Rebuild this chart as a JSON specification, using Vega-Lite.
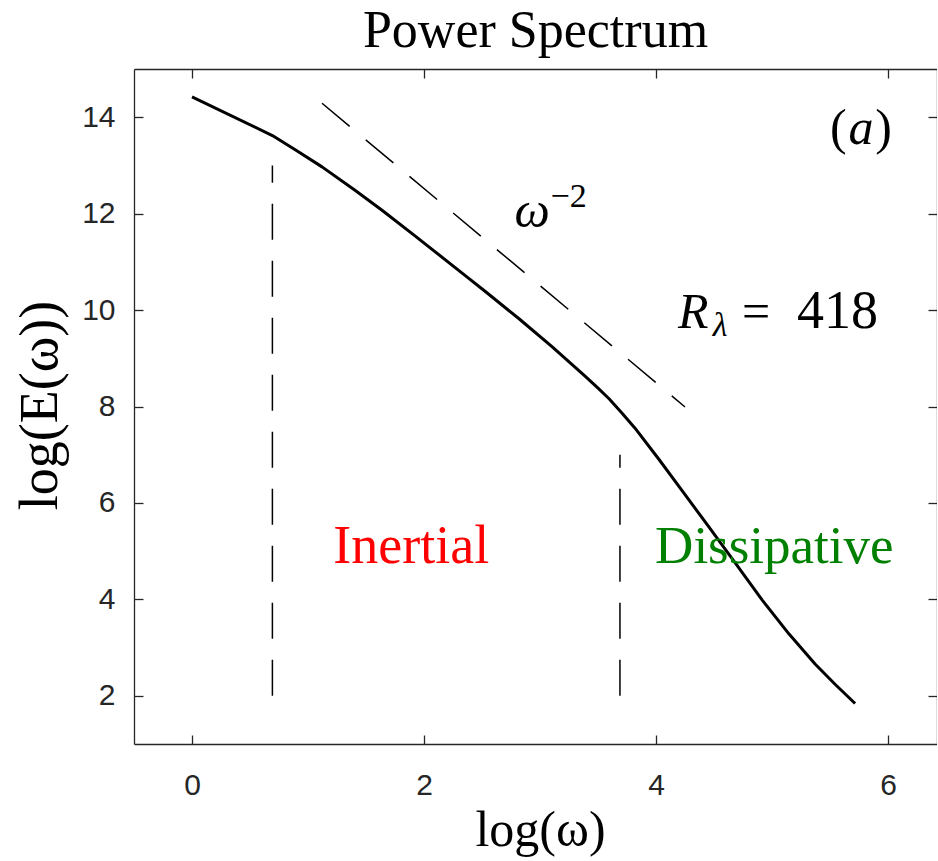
{
  "$schema": "https://vega.github.io/schema/vega-lite/v6.json",
  "autosize": {"type": "none"},
  "padding": {"left": 134, "top": 69, "right": 0, "bottom": 117},
  "width": 803,
  "height": 675,
  "background": "white",
  "config": {
    "view": {"stroke": null},
    "axis": {
      "grid": false,
      "domainColor": "#262626",
      "domainWidth": 1.3,
      "tickColor": "#262626",
      "tickWidth": 1.3,
      "tickSize": -9,
      "labelFont": "Liberation Sans",
      "labelFontSize": 30,
      "labelColor": "#262626",
      "titleFont": "Liberation Serif",
      "titleFontSize": 50,
      "titleFontWeight": "normal",
      "titleColor": "black"
    }
  },
  "title": {
    "text": "Power Spectrum",
    "font": "Liberation Serif",
    "fontSize": 52,
    "fontWeight": "normal",
    "color": "black",
    "anchor": "middle",
    "baseline": "alphabetic",
    "offset": 22,
    "dy": 53
  },
  "resolve": {"axis": {"x": "independent", "y": "independent"}},
  "layer": [
    {
      "data": {"values": [
        {"lw": 0.0, "le": 14.42},
        {"lw": 0.693, "le": 13.62},
        {"lw": 0.9, "le": 13.31},
        {"lw": 1.121, "le": 12.97},
        {"lw": 1.405, "le": 12.485},
        {"lw": 1.638, "le": 12.07},
        {"lw": 1.922, "le": 11.54},
        {"lw": 2.353, "le": 10.72},
        {"lw": 2.526, "le": 10.39},
        {"lw": 2.819, "le": 9.82},
        {"lw": 3.103, "le": 9.24},
        {"lw": 3.388, "le": 8.63},
        {"lw": 3.5, "le": 8.38},
        {"lw": 3.595, "le": 8.16},
        {"lw": 3.7, "le": 7.88},
        {"lw": 3.819, "le": 7.55},
        {"lw": 4.026, "le": 6.90},
        {"lw": 4.250, "le": 6.17},
        {"lw": 4.457, "le": 5.50},
        {"lw": 4.681, "le": 4.76},
        {"lw": 4.914, "le": 3.99},
        {"lw": 5.147, "le": 3.28},
        {"lw": 5.371, "le": 2.66},
        {"lw": 5.543, "le": 2.24},
        {"lw": 5.716, "le": 1.84}
      ]},
      "mark": {"type": "line", "color": "black", "strokeWidth": 3, "strokeJoin": "round"},
      "encoding": {
        "x": {
          "field": "lw", "type": "quantitative",
          "scale": {"domain": [-0.5, 6.422], "nice": false, "zero": false},
          "axis": {
            "orient": "bottom", "values": [0, 2, 4, 6], "labelPadding": 35,
            "labelBaseline": "top", "labelFontSize": 30, "labelFont": "Liberation Sans",
            "title": "log(ω)", "titleX": 406, "titleY": 86, "titleBaseline": "middle", "titleAnchor": "middle"
          }
        },
        "y": {
          "field": "le", "type": "quantitative",
          "scale": {"domain": [1, 15], "nice": false, "zero": false},
          "axis": {
            "orient": "left", "values": [2, 4, 6, 8, 10, 12, 14], "labelPadding": 28,
            "labelFontSize": 30, "labelFont": "Liberation Sans",
            "title": "log(E(ω))", "titleFontSize": 54, "titleX": -94, "titleY": 336, "titleAngle": -90,
            "titleBaseline": "middle", "titleAnchor": "middle"
          }
        }
      }
    },
    {
      "data": {"values": [
        {"xv": 0.693, "ya": 2, "yb": 13},
        {"xv": 3.689, "ya": 2, "yb": 7}
      ]},
      "mark": {"type": "rule", "color": "black", "strokeWidth": 1.5, "strokeDash": [36, 21]},
      "encoding": {
        "x": {"field": "xv", "type": "quantitative",
          "axis": {"orient": "top", "values": [0, 2, 4, 6], "labels": false, "title": null}},
        "y": {"field": "ya", "type": "quantitative",
          "axis": {"orient": "right", "values": [2, 4, 6, 8, 10, 12, 14], "labels": false, "title": null}},
        "y2": {"field": "yb"}
      }
    },
    {
      "data": {"values": [
        {"xa": 1.121, "ya": 14.29, "xb": 4.25, "yb": 7.99}
      ]},
      "mark": {"type": "rule", "color": "black", "strokeWidth": 1.5, "strokeDash": [36, 21]},
      "encoding": {
        "x": {"field": "xa", "type": "quantitative", "axis": null},
        "y": {"field": "ya", "type": "quantitative", "axis": null},
        "x2": {"field": "xb"},
        "y2": {"field": "yb"}
      }
    },
    {
      "data": {"values": [{"xt": 1.89, "yt": 5.09, "label": "Inertial"}]},
      "mark": {"type": "text", "font": "Liberation Serif", "fontSize": 54, "align": "center", "baseline": "middle", "color": "#ff0000"},
      "encoding": {
        "x": {"field": "xt", "type": "quantitative", "axis": null},
        "y": {"field": "yt", "type": "quantitative", "axis": null},
        "text": {"field": "label"}
      }
    },
    {
      "data": {"values": [{"xt": 5.02, "yt": 5.09, "label": "Dissipative"}]},
      "mark": {"type": "text", "font": "Liberation Serif", "fontSize": 53, "align": "center", "baseline": "middle", "color": "#008000"},
      "encoding": {
        "x": {"field": "xt", "type": "quantitative", "axis": null},
        "y": {"field": "yt", "type": "quantitative", "axis": null},
        "text": {"field": "label"}
      }
    },
    {
      "data": {"values": [{"xt": 2.78, "yt": 11.72, "label": "ω"}, {"xt": 4.19, "yt": 9.63, "label": "R"}, {"xt": 5.66, "yt": 13.44, "label": "a"}]},
      "mark": {"type": "text", "font": "Liberation Serif", "fontSize": 50, "fontStyle": "italic", "align": "left", "baseline": "alphabetic", "color": "black"},
      "encoding": {
        "x": {"field": "xt", "type": "quantitative", "axis": null},
        "y": {"field": "yt", "type": "quantitative", "axis": null},
        "text": {"field": "label"}
      }
    },
    {
      "data": {"values": [{"xt": 4.74, "yt": 9.63, "label": "="}, {"xt": 5.50, "yt": 13.44, "label": "("}, {"xt": 5.89, "yt": 13.44, "label": ")"}]},
      "mark": {"type": "text", "font": "Liberation Serif", "fontSize": 50, "align": "left", "baseline": "alphabetic", "color": "black"},
      "encoding": {
        "x": {"field": "xt", "type": "quantitative", "axis": null},
        "y": {"field": "yt", "type": "quantitative", "axis": null},
        "text": {"field": "label"}
      }
    },
    {
      "data": {"values": [{"xt": 5.216, "yt": 9.63, "label": "418"}]},
      "mark": {"type": "text", "font": "Liberation Serif", "fontSize": 54, "align": "left", "baseline": "alphabetic", "color": "black"},
      "encoding": {
        "x": {"field": "xt", "type": "quantitative", "axis": null},
        "y": {"field": "yt", "type": "quantitative", "axis": null},
        "text": {"field": "label"}
      }
    },
    {
      "data": {"values": [{"xt": 3.09, "yt": 12.13, "label": "−2"}]},
      "mark": {"type": "text", "font": "Liberation Serif", "fontSize": 34, "align": "left", "baseline": "alphabetic", "color": "black"},
      "encoding": {
        "x": {"field": "xt", "type": "quantitative", "axis": null},
        "y": {"field": "yt", "type": "quantitative", "axis": null},
        "text": {"field": "label"}
      }
    },
    {
      "data": {"values": [{"xt": 4.49, "yt": 9.46, "label": "λ"}]},
      "mark": {"type": "text", "font": "Liberation Serif", "fontSize": 34, "fontStyle": "italic", "align": "left", "baseline": "alphabetic", "color": "black"},
      "encoding": {
        "x": {"field": "xt", "type": "quantitative", "axis": null},
        "y": {"field": "yt", "type": "quantitative", "axis": null},
        "text": {"field": "label"}
      }
    }
  ]
}
